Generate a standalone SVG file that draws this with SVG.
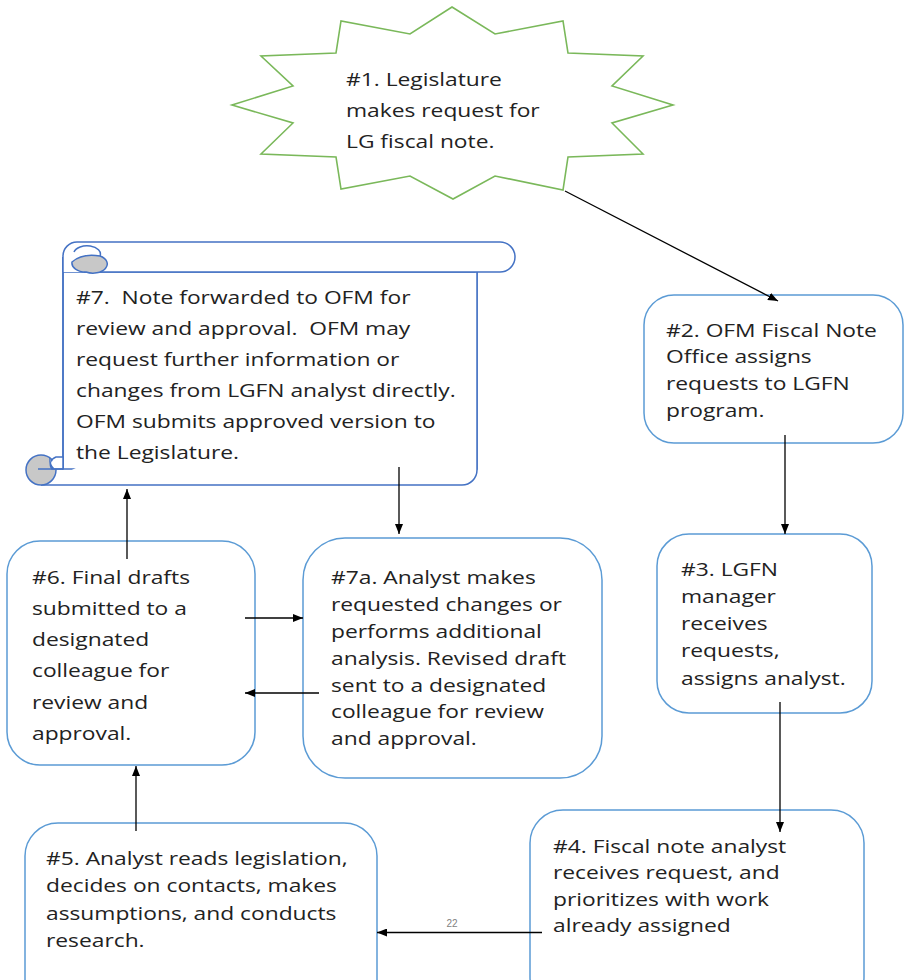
<svg xmlns="http://www.w3.org/2000/svg" width="904" height="980" viewBox="0 0 904 980">
<style>
.t{font-family:"Open Sans","Noto Sans","Liberation Sans",sans-serif;font-size:19px;fill:#222;white-space:pre}
.box{fill:#fff;stroke:#5B9BD5;stroke-width:1.5}
.scroll{fill:#fff;stroke:#4472C4;stroke-width:1.5}
.curl{fill:#C8C8C8;stroke:#4472C4;stroke-width:1.5}
.star{fill:#fff;stroke:#7AB85A;stroke-width:1.6}
.c{fill:none;stroke:#000;stroke-width:1.3;marker-end:url(#ah)}
.lbl{font-family:"Liberation Sans",Arial,sans-serif;font-size:10px;fill:#7f7f7f}
</style>
<defs>
<marker id="ah" markerUnits="userSpaceOnUse" markerWidth="10" markerHeight="8" refX="10" refY="4" orient="auto">
<path d="M0,0 L10,4 L0,8 Z" fill="#000"/>
</marker>
</defs>
<rect width="904" height="980" fill="#fff"/>

<g id="node1">
<polygon class="star" points="452,7 495,34 563,21 568,53 643,56 612,86 673,105 612,123 643,154 568,157 563,190 495,176 453,199 410,176 341,189 336,157 261,154 293,123 232,105 293,86 261,56 336,53 341,21 410,34"/>
<text class="t" transform="translate(346 0) scale(1.2 1)"><tspan x="0" y="86">#1. Legislature</tspan><tspan x="0" y="117">makes request for</tspan><tspan x="0" y="148">LG fiscal note.</tspan></text>
</g>

<g id="node7">
<path class="scroll" d="M63,257 V469 H477 V272 H63 Z" stroke="none"/>
<path class="scroll" fill="none" d="M63,257 V469 M41,485 H462 A15,15 0 0 0 477,470 V272"/>
<path class="scroll" d="M63,272 V256 A14,14 0 0 1 77,242 H500 A15,15 0 0 1 500,272 H84"/>
<path class="scroll" fill="none" d="M74,252 A13,8 0 0 1 100,256"/>
<path class="curl" d="M72,262 Q82,253 100,256 A14,9 0 0 1 86,272 A14,9 0 0 1 72,262 Z"/>
<circle class="curl" cx="41" cy="470" r="15"/>
<path class="scroll" d="M52,469 A9,8 0 0 1 56,457 L63,457 L63,469 Z" stroke="none"/>
<path class="scroll" fill="none" d="M38,469 H63 M54,469 A8,11 0 0 1 50,458"/>
<text class="t" transform="translate(76 0) scale(1.2 1)"><tspan x="0" y="304">#7.  Note forwarded to OFM for</tspan><tspan x="0" y="335">review and approval.  OFM may</tspan><tspan x="0" y="366">request further information or</tspan><tspan x="0" y="397">changes from LGFN analyst directly.</tspan><tspan x="0" y="428">OFM submits approved version to</tspan><tspan x="0" y="459">the Legislature.</tspan></text>
</g>

<g id="node2">
<rect class="box" x="644" y="295" width="259" height="148" rx="30"/>
<text class="t" transform="translate(666 0) scale(1.2 1)"><tspan x="0" y="337">#2. OFM Fiscal Note</tspan><tspan x="0" y="363">Office assigns</tspan><tspan x="0" y="390">requests to LGFN</tspan><tspan x="0" y="417">program.</tspan></text>
</g>

<g id="node3">
<rect class="box" x="657" y="534" width="215" height="179" rx="32"/>
<text class="t" transform="translate(681 0) scale(1.2 1)"><tspan x="0" y="576">#3. LGFN</tspan><tspan x="0" y="603">manager</tspan><tspan x="0" y="630">receives</tspan><tspan x="0" y="657">requests,</tspan><tspan x="0" y="685">assigns analyst.</tspan></text>
</g>

<g id="node4">
<rect class="box" x="530" y="810" width="334" height="200" rx="33"/>
<text class="t" transform="translate(553 0) scale(1.2 1)"><tspan x="0" y="853">#4. Fiscal note analyst</tspan><tspan x="0" y="879">receives request, and</tspan><tspan x="0" y="906">prioritizes with work</tspan><tspan x="0" y="932">already assigned</tspan></text>
</g>

<g id="node5">
<rect class="box" x="25" y="823" width="352" height="200" rx="33"/>
<text class="t" transform="translate(46 0) scale(1.2 1)"><tspan x="0" y="865">#5. Analyst reads legislation,</tspan><tspan x="0" y="892">decides on contacts, makes</tspan><tspan x="0" y="920">assumptions, and conducts</tspan><tspan x="0" y="947">research.</tspan></text>
</g>

<g id="node6">
<rect class="box" x="7" y="541" width="248" height="224" rx="33"/>
<text class="t" transform="translate(32 0) scale(1.2 1)"><tspan x="0" y="584">#6. Final drafts</tspan><tspan x="0" y="615">submitted to a</tspan><tspan x="0" y="646">designated</tspan><tspan x="0" y="677">colleague for</tspan><tspan x="0" y="709">review and</tspan><tspan x="0" y="740">approval.</tspan></text>
</g>

<g id="node7a">
<rect class="box" x="303" y="538" width="299" height="240" rx="42"/>
<text class="t" transform="translate(331 0) scale(1.2 1)"><tspan x="0" y="584">#7a. Analyst makes</tspan><tspan x="0" y="611">requested changes or</tspan><tspan x="0" y="638">performs additional</tspan><tspan x="0" y="665">analysis. Revised draft</tspan><tspan x="0" y="692">sent to a designated</tspan><tspan x="0" y="718">colleague for review</tspan><tspan x="0" y="745">and approval.</tspan></text>
</g>

<g id="connectors">
<line class="c" x1="565" y1="191" x2="778" y2="301"/>
<line class="c" x1="785" y1="435" x2="785" y2="534"/>
<line class="c" x1="780" y1="702" x2="780" y2="832"/>
<line class="c" x1="542" y1="932.5" x2="377" y2="932.5"/>
<text class="lbl" x="452" y="927" text-anchor="middle">22</text>
<line class="c" x1="136" y1="831" x2="136" y2="766"/>
<line class="c" x1="127" y1="559" x2="127" y2="489"/>
<line class="c" x1="399" y1="467" x2="399" y2="534"/>
<line class="c" x1="245" y1="618" x2="303" y2="618"/>
<line class="c" x1="319" y1="693" x2="245" y2="693"/>
</g>
</svg>
